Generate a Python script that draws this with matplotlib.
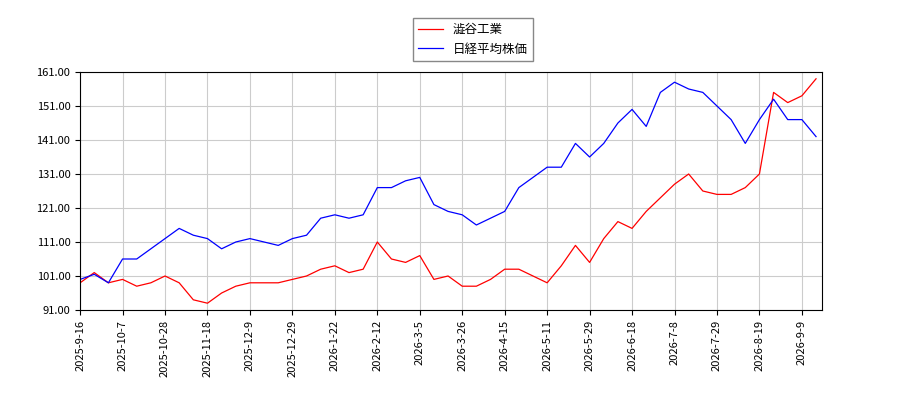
import matplotlib
matplotlib.use("Agg")
import matplotlib.pyplot as plt
import numpy as np

plt.rcParams['font.family'] = ['Noto Sans CJK JP', 'DejaVu Sans']

shibuya = [99,102,99,100,98,99,101,99,94,93,96,98,99,99,99,100,101,103,104,102,103,111,106,105,107,100,101,98,98,100,103,103,101,99,104,110,105,112,117,115,120,124,128,131,126,125,125,127,131,155,152,154,159]
nikkei = [100,101.5,99,106,106,109,112,115,113,112,109,111,112,111,110,112,113,118,119,118,119,127,127,129,130,122,120,119,116,118,120,127,130,133,133,140,136,140,146,150,145,155,158,156,155,151,147,140,147,153,147,147,142]
tick_labels = ["2025-9-16","2025-10-7","2025-10-28","2025-11-18","2025-12-9","2025-12-29","2026-1-22","2026-2-12","2026-3-5","2026-3-26","2026-4-15","2026-5-11","2026-5-29","2026-6-18","2026-7-8","2026-7-29","2026-8-19","2026-9-9"]
yticks = [91,101,111,121,131,141,151,161]

x = np.arange(len(shibuya)) * 5  # trading-day index (weekly samples)

fig = plt.figure(figsize=(9,4), dpi=100)
ax = fig.add_axes([0.089, 0.225, 0.824, 0.595])
ax.plot(x, shibuya, color="red", lw=0.9, label="澁谷工業")
ax.plot(x, nikkei, color="blue", lw=0.9, label="日経平均株価")
ax.set_ylim(91,161)
ax.set_yticks(yticks)
ax.set_yticklabels([f"{v:.2f}" for v in yticks], fontsize=8)
ax.set_xticks(np.arange(len(tick_labels)) * 15)
ax.set_xticklabels(tick_labels, rotation=90, fontsize=8)
ax.set_xlim(0, 262)
ax.grid(True, color="#cccccc", lw=0.8)
fig.legend(loc="upper center", bbox_to_anchor=(0.525, 0.97), fontsize=9, framealpha=1, edgecolor="#888888", fancybox=False)
fig.savefig("out.png")
